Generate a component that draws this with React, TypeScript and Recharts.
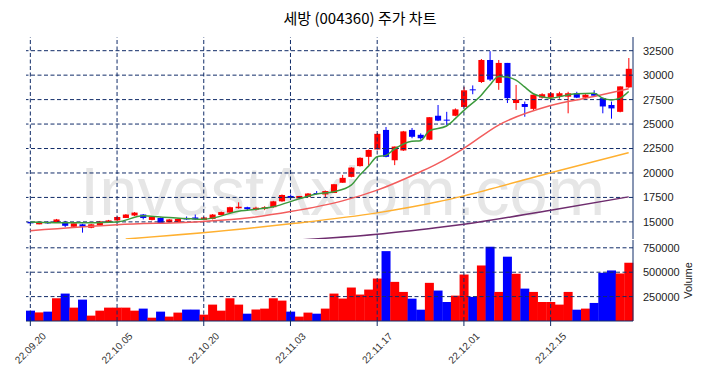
import React from 'react';
import {
  ComposedChart,
  Bar,
  Line,
  XAxis,
  YAxis,
  Cell,
  ReferenceLine
} from 'recharts';

// trading days shown on the chart
const dates = [
  '22.09.20', '22.09.21', '22.09.22', '22.09.23', '22.09.26', '22.09.27', '22.09.28', '22.09.29', '22.09.30',
  '22.10.04', '22.10.05', '22.10.06', '22.10.07', '22.10.11', '22.10.12', '22.10.13', '22.10.14', '22.10.17',
  '22.10.18', '22.10.19', '22.10.20', '22.10.21', '22.10.24', '22.10.25', '22.10.26', '22.10.27', '22.10.28',
  '22.10.31', '22.11.01', '22.11.02', '22.11.03', '22.11.04', '22.11.07', '22.11.08', '22.11.09', '22.11.10',
  '22.11.11', '22.11.14', '22.11.15', '22.11.16', '22.11.17', '22.11.18', '22.11.21', '22.11.22', '22.11.23',
  '22.11.24', '22.11.25', '22.11.28', '22.11.29', '22.11.30', '22.12.01', '22.12.02', '22.12.05', '22.12.06',
  '22.12.07', '22.12.08', '22.12.09', '22.12.12', '22.12.13', '22.12.14', '22.12.15', '22.12.16', '22.12.19',
  '22.12.20', '22.12.21', '22.12.22', '22.12.23', '22.12.26', '22.12.27', '22.12.28'
];

const opens = [
  15000, 14750, 15000, 14950, 15000, 14500, 14750, 14400, 14650, 14950,
  15150, 15400, 15650, 15750, 15200, 15400, 14950, 15000, 15400, 15450,
  15200, 15300, 15700, 15950, 16400, 16500, 16250, 16350, 16500, 17100,
  17650, 17400, 17550, 17950, 17800, 17950, 19000, 19600, 20700, 21650,
  22400, 24400, 21300, 22300, 24400, 23900, 23400, 25850, 25450, 25850,
  26750, 28550, 29300, 31550, 29200, 31250, 27150, 27050, 26550, 27700,
  27700, 27800, 27800, 28150, 27700, 28150, 27650, 26950, 26250, 28750
];
const highs = [
  15050, 15050, 15050, 15300, 15100, 14850, 14800, 14800, 15100, 15200,
  15550, 15800, 16000, 15800, 15550, 15450, 15300, 15350, 15550, 15750,
  15500, 15800, 16050, 16550, 17000, 16550, 16550, 16600, 17150, 17800,
  17800, 17650, 17950, 18150, 18200, 18850, 19800, 20600, 21600, 22400,
  24100, 24700, 22700, 24300, 24600, 24050, 25700, 26950, 26250, 26600,
  28800, 28950, 31650, 32450, 31550, 31250, 29000, 27300, 28000, 28150,
  28250, 28300, 28300, 28300, 28050, 28450, 27700, 27300, 28850, 31750
];
const lows = [
  14800, 14750, 14800, 14900, 14450, 14450, 13900, 14350, 14650, 14900,
  15100, 15400, 15600, 15250, 15150, 14800, 14900, 14950, 15200, 15200,
  15150, 15250, 15650, 15900, 16350, 16150, 16150, 16200, 16450, 17050,
  17350, 17350, 17500, 17800, 17550, 17950, 19000, 19550, 20650, 20800,
  22400, 21600, 20800, 22250, 23550, 23400, 23350, 25300, 24900, 25800,
  26700, 28050, 29200, 29400, 28500, 27150, 26450, 25750, 26350, 27600,
  27650, 27600, 26100, 27650, 27650, 27800, 26100, 25550, 26200, 28700
];
const closes = [
  14850, 15000, 14850, 15250, 14600, 14850, 14500, 14750, 15050, 15150,
  15500, 15750, 15950, 15400, 15500, 14850, 15250, 15300, 15250, 15250,
  15450, 15750, 16000, 16500, 16550, 16300, 16450, 16500, 17100, 17750,
  17450, 17650, 17900, 17850, 18150, 18850, 19500, 20550, 21550, 22350,
  24000, 21650, 22700, 24250, 23700, 23550, 25700, 25350, 25350, 26500,
  28450, 28450, 31550, 29550, 31250, 27650, 27500, 26750, 28000, 28050,
  28150, 28150, 28150, 27700, 28000, 27900, 26800, 26600, 28850, 30650
];
const volumes = [
  106000, 88000, 96000, 233000, 281000, 137000, 219000, 55000, 106000, 137000,
  137000, 137000, 106000, 127000, 34000, 96000, 45000, 86000, 117000, 117000,
  65000, 168000, 106000, 233000, 168000, 75000, 117000, 127000, 233000, 209000,
  96000, 45000, 86000, 75000, 127000, 281000, 230000, 343000, 271000, 322000,
  435000, 716000, 401000, 298000, 229000, 116000, 391000, 312000, 195000, 260000,
  476000, 247000, 569000, 761000, 298000, 659000, 484000, 332000, 298000, 195000,
  195000, 168000, 298000, 116000, 127000, 185000, 494000, 518000, 487000, 597000
];

// moving averages: [day index, value]
const ma5Points = [
  [0, 15000], [5, 14900], [10, 15000], [13, 15620], [15, 15510], [20, 15270], [24, 16090],
  [28, 16540], [31, 17350], [33, 17840], [35, 18080], [37, 18760], [38, 19790], [39, 20700],
  [40, 21660], [41, 21800], [42, 22450], [44, 23250], [45, 23300], [46, 24300], [48, 24800],
  [49, 25550], [50, 26400], [52, 27950], [53, 29000], [54, 29870], [55, 29800], [56, 29500],
  [57, 28800], [58, 28100], [59, 27800], [60, 27650], [62, 27980], [63, 28090], [65, 28160],
  [66, 27650], [67, 27470], [68, 27650], [69, 28330]
];
const ma20Points = [
  [0, 14100], [10, 14700], [20, 15050], [25, 15400], [30, 16050], [36, 17150], [40, 18250],
  [45, 20130], [47, 20980], [50, 22520], [54, 24900], [60, 26900], [65, 27810], [69, 28600]
];
const ma60Points = [
  [11, 13250], [25, 14320], [30, 14800], [40, 15920], [47, 17050], [50, 17660], [60, 20030], [69, 22080]
];
const ma120Points = [
  [31, 13150], [40, 13740], [47, 14430], [50, 14760], [60, 16200], [69, 17560]
];

const tickDates = ['22.09.20', '22.10.05', '22.10.20', '22.11.03', '22.11.17', '22.12.01', '22.12.15'];
const priceTicks = [15000, 17500, 20000, 22500, 25000, 27500, 30000, 32500];
const volumeTicks = [250000, 500000, 750000];

const NAVY = '#112c68';
const FONT = '"Liberation Sans", Arial, sans-serif';
const UP = '#ff0000';
const DOWN = '#0000ff';
const DASH = '4 2.5';

const lookup = (pts: number[][], i: number) => {
  const hit = pts.find(p => p[0] === i);
  return hit ? hit[1] : null;
};

const rows = dates.map((date, i) => ({
  date,
  open: opens[i],
  high: highs[i],
  low: lows[i],
  close: closes[i],
  volume: volumes[i],
  ma5: lookup(ma5Points, i),
  ma20: lookup(ma20Points, i),
  ma60: lookup(ma60Points, i),
  ma120: lookup(ma120Points, i)
}));

const Candle = (props: any) => {
  const { x, y, width, height, payload } = props;
  if (!payload) return null;
  const { open, close, high, low } = payload;
  const top = Math.min(y, y + height);
  const h = Math.abs(height);
  const ratio = h / (high - low || 1);
  const color = close >= open ? UP : DOWN;
  const bodyTop = top + (high - Math.max(open, close)) * ratio;
  const bodyH = Math.max(1, Math.abs(open - close) * ratio);
  const cx = x + width / 2;
  const bw = width * 0.68;
  return (
    <g>
      <line x1={cx} x2={cx} y1={top} y2={top + h} stroke={color} strokeWidth={1} />
      <rect x={cx - bw / 2} y={bodyTop} width={bw} height={bodyH} fill={color} />
    </g>
  );
};

const DateTick = (props: any) => {
  const { x, y, payload } = props;
  return (
    <text
      transform={`translate(${x},${y + 20}) rotate(-45)`}
      textAnchor="middle"
      dominantBaseline="central"
      fontSize={10}
      fontFamily={FONT}
      fill="#333"
    >
      {payload.value}
    </text>
  );
};

const axisTick = { fill: '#222', fontSize: 11, fontFamily: FONT };

export default function App() {
  return (
    <div style={{ position: 'absolute', left: 0, top: 0, width: 704, height: 378, background: '#fff' }}>
      <svg width={704} height={378} style={{ position: 'absolute', left: 0, top: 0 }}>
        <text x={80} y={215} fontSize={69} fontFamily={FONT} fill="#e6e6e6">
          InvestAxiom.com
        </text>
        <text x={360} y={24} fontSize={15} textAnchor="middle" fontFamily='"Noto Sans CJK KR", sans-serif' fill="#000">
          세방 (004360) 주가 차트
        </text>
      </svg>

      <div style={{ position: 'absolute', left: 0, top: 0 }}>
        <ComposedChart
          width={704}
          height={240}
          data={rows}
          margin={{ top: 37, right: 0, bottom: 1, left: 26 }}
          barCategoryGap={0}
          barGap={0}
        >
          {priceTicks.map(v => (
            <ReferenceLine key={v} y={v} stroke={NAVY} strokeDasharray={DASH} />
          ))}
          {tickDates.map(d => (
            <ReferenceLine key={d} x={d} stroke={NAVY} strokeDasharray={DASH} />
          ))}
          <XAxis dataKey="date" height={0} tick={false} tickLine={false} axisLine={{ stroke: NAVY }} />
          <XAxis xAxisId="t" dataKey="date" orientation="top" height={0} tick={false} tickLine={false} axisLine={{ stroke: NAVY }} />
          <YAxis
            orientation="right"
            domain={[13250, 33900]}
            allowDataOverflow
            ticks={priceTicks}
            width={71}
            tickLine={false}
            tickMargin={4}
            axisLine={{ stroke: NAVY }}
            tick={axisTick}
          />
          <YAxis yAxisId="l" orientation="left" width={0} tick={false} tickLine={false} axisLine={{ stroke: NAVY }} />
          <Bar
            dataKey={(r: any) => [r.low, r.high]}
            shape={(p: any) => <Candle {...p} />}
            isAnimationActive={false}
          />
          <Line dataKey="ma120" type="monotone" stroke="#6e2c6e" strokeWidth={1.5} dot={false} connectNulls isAnimationActive={false} />
          <Line dataKey="ma60" type="monotone" stroke="#ffb030" strokeWidth={1.5} dot={false} connectNulls isAnimationActive={false} />
          <Line dataKey="ma20" type="monotone" stroke="#f25c5c" strokeWidth={1.5} dot={false} connectNulls isAnimationActive={false} />
          <Line dataKey="ma5" type="monotone" stroke="#3c9a3c" strokeWidth={1.5} dot={false} connectNulls isAnimationActive={false} />
        </ComposedChart>
      </div>

      <div style={{ position: 'absolute', left: 0, top: 0 }}>
        <ComposedChart
          width={704}
          height={378}
          data={rows}
          margin={{ top: 240, right: 0, bottom: 0, left: 26 }}
          barCategoryGap={0}
          barGap={0}
        >
          {volumeTicks.map(v => (
            <ReferenceLine key={v} y={v} stroke={NAVY} strokeDasharray={DASH} />
          ))}
          {tickDates.map(d => (
            <ReferenceLine key={d} x={d} stroke={NAVY} strokeDasharray={DASH} />
          ))}
          <XAxis
            dataKey="date"
            height={57}
            ticks={tickDates}
            interval={0}
            tickSize={5}
            tickLine={{ stroke: NAVY }}
            axisLine={{ stroke: NAVY }}
            tick={(p: any) => <DateTick {...p} />}
          />
          <XAxis xAxisId="t" dataKey="date" orientation="top" height={0} tick={false} tickLine={false} axisLine={{ stroke: NAVY }} />
          <YAxis
            orientation="right"
            domain={[0, 830000]}
            allowDataOverflow
            ticks={volumeTicks}
            width={71}
            tickLine={false}
            tickMargin={4}
            axisLine={{ stroke: NAVY }}
            tick={axisTick}
            label={{
              content: (p: any) => {
                const vb = p.viewBox || {};
                return (
                  <text
                    transform={`translate(${vb.x + vb.width - 16},${vb.y + vb.height / 2}) rotate(-90)`}
                    textAnchor="middle"
                    dominantBaseline="central"
                    fontSize={11}
                    fontFamily={FONT}
                    fill="#222"
                  >
                    Volume
                  </text>
                );
              }
            }}
          />
          <YAxis yAxisId="l" orientation="left" width={0} tick={false} tickLine={false} axisLine={{ stroke: NAVY }} />
          <Bar dataKey="volume" isAnimationActive={false}>
            {rows.map((r, i) => (
              <Cell key={i} fill={r.close >= r.open ? UP : DOWN} />
            ))}
          </Bar>
        </ComposedChart>
      </div>
    </div>
  );
}
